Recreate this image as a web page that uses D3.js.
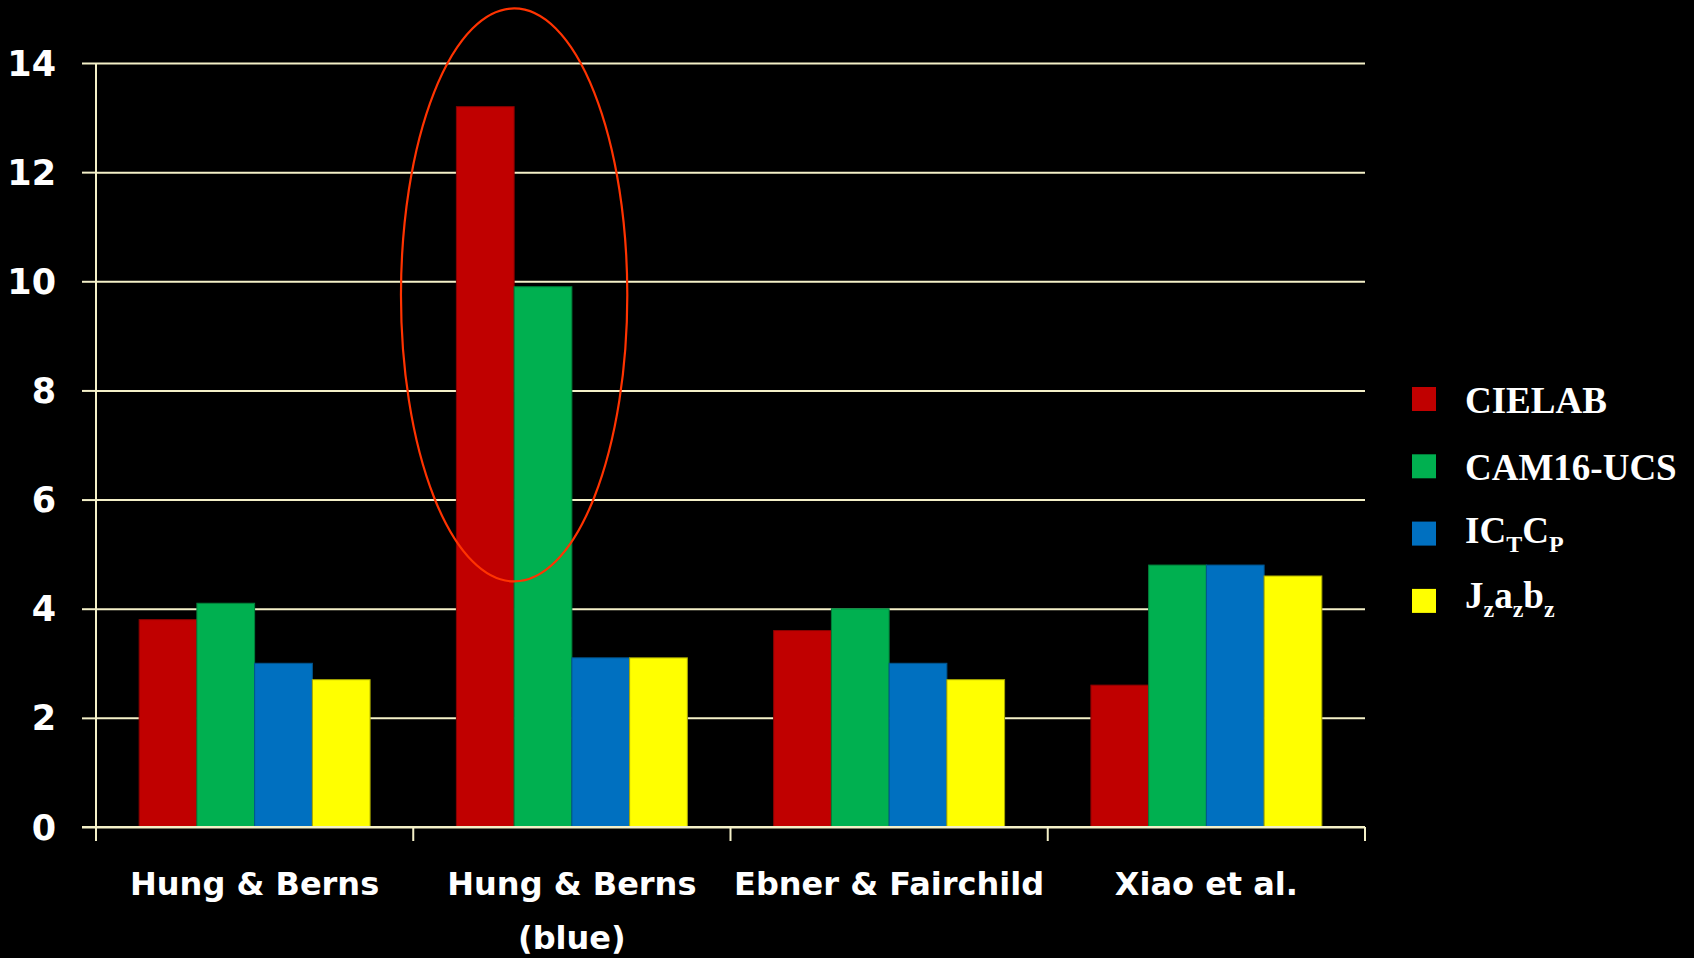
<!DOCTYPE html>
<html>
<head>
<meta charset="utf-8">
<script src="https://cdn.jsdelivr.net/npm/d3@7"></script>
<style>
  html, body { margin: 0; padding: 0; background: #000; }
  svg { display: block; }
</style>
</head>
<body>
<svg id="chart" width="1694" height="958"></svg>
<script>
// Data sets (x-axis groups); the second one has a two-line label
const categories = ["Hung & Berns", "Hung & Berns (blue)", "Ebner & Fairchild", "Xiao et al."];
const categoryLines = [["Hung & Berns"], ["Hung & Berns", "(blue)"], ["Ebner & Fairchild"], ["Xiao et al."]];

// Colour spaces (series)
const seriesNames = ["CIELAB", "CAM16-UCS", "ICTCP", "Jzazbz"];
const seriesColors = ["#C00000", "#00B050", "#0070C0", "#FFFF00"];
const seriesStrokes = ["#8a0000", "#00803a", "#005590", "#a8a800"];

// Values per colour space, one entry per data set
const cielab   = [3.8, 13.2, 3.6, 2.6];
const cam16ucs = [4.1, 9.9, 4.0, 4.8];
const ictcp    = [3.0, 3.1, 3.0, 4.8];
const jzazbz   = [2.7, 3.1, 2.7, 4.6];

const yTicks = [0, 2, 4, 6, 8, 10, 12, 14];

// Highlight ring around the first two bars of the second data set (value range in y units)
const highlight = { category: "Hung & Berns (blue)", yLow: 4.5, yHigh: 15.0 };

const seriesValues = [cielab, cam16ucs, ictcp, jzazbz];

const svg = d3.select("#chart");
const plot = { left: 96, right: 1365, top: 63, bottom: 827 };

const x0 = d3.scaleBand().domain(categories).range([plot.left, plot.right]).paddingInner(0).paddingOuter(0);
const groupWidth = x0.bandwidth() * 0.728;
const x1 = d3.scaleBand().domain(seriesNames).range([0, groupWidth]).padding(0);
const y = d3.scaleLinear().domain([0, 14]).range([plot.bottom, plot.top]);

const gridColor = "#f4f0c8";

// Horizontal gridlines with tick stubs to the left of the axis
const yAxis = d3.axisLeft(y).tickValues(yTicks).tickSize(-(plot.right - plot.left)).tickFormat("");
const gy = svg.append("g").attr("transform", `translate(${plot.left},0)`).call(yAxis);
gy.select(".domain").remove();
gy.selectAll(".tick line").attr("stroke", gridColor).attr("stroke-width", 2);
gy.selectAll(".tick").append("line")
  .attr("x1", -14).attr("x2", 0)
  .attr("stroke", gridColor).attr("stroke-width", 2);

// Y tick labels
svg.append("g").selectAll("text").data(yTicks).join("text")
  .attr("x", 56)
  .attr("y", d => y(d))
  .attr("dy", "0.36em")
  .attr("text-anchor", "end")
  .attr("fill", "#fff")
  .attr("font-family", "'Comic Sans MS', 'DejaVu Sans', sans-serif")
  .attr("font-weight", "bold")
  .attr("font-size", 35)
  .text(d => d);

// Bars
const rows = categories.map((c, i) => ({ category: c, values: seriesNames.map((s, j) => ({ series: s, j, value: seriesValues[j][i] })) }));
const groups = svg.append("g").selectAll("g").data(rows).join("g")
  .attr("transform", d => `translate(${x0(d.category) + (x0.bandwidth() - groupWidth) / 2},0)`);
groups.selectAll("rect").data(d => d.values).join("rect")
  .attr("x", d => x1(d.series))
  .attr("y", d => y(d.value))
  .attr("width", x1.bandwidth())
  .attr("height", d => y(0) - y(d.value))
  .attr("fill", d => seriesColors[d.j])
  .attr("stroke", d => seriesStrokes[d.j])
  .attr("stroke-width", 1);

// Left axis line
svg.append("line")
  .attr("x1", plot.left).attr("x2", plot.left)
  .attr("y1", plot.top).attr("y2", plot.bottom + 14)
  .attr("stroke", gridColor).attr("stroke-width", 2);

// X axis: baseline with ticks at group boundaries
svg.append("line")
  .attr("x1", plot.left - 14).attr("x2", plot.right)
  .attr("y1", plot.bottom).attr("y2", plot.bottom)
  .attr("stroke", gridColor).attr("stroke-width", 2);
const boundaries = categories.map(c => x0(c)).concat([x0(categories[categories.length - 1]) + x0.bandwidth()]);
svg.append("g").selectAll("line").data(boundaries).join("line")
  .attr("x1", d => d).attr("x2", d => d)
  .attr("y1", plot.bottom).attr("y2", plot.bottom + 14)
  .attr("stroke", gridColor).attr("stroke-width", 2);

// Category labels
const labels = svg.append("g").selectAll("text").data(categories).join("text")
  .attr("x", d => x0(d) + x0.bandwidth() / 2)
  .attr("y", 895)
  .attr("text-anchor", "middle")
  .attr("fill", "#fff")
  .attr("font-family", "'Comic Sans MS', 'DejaVu Sans', sans-serif")
  .attr("font-weight", "bold")
  .attr("font-size", 32);
labels.each(function (d, i) {
  const t = d3.select(this);
  categoryLines[i].forEach((line, k) => {
    t.append("tspan")
      .attr("x", x0(d) + x0.bandwidth() / 2)
      .attr("dy", k === 0 ? 0 : 54)
      .text(line);
  });
});

// Highlight ellipse around CIELAB / CAM16-UCS bars of the second data set
const hx = x0(highlight.category) + (x0.bandwidth() - groupWidth) / 2 + x1("CAM16-UCS");
svg.append("ellipse")
  .attr("cx", hx)
  .attr("cy", (y(highlight.yLow) + y(highlight.yHigh)) / 2)
  .attr("rx", x1.bandwidth() * 1.96)
  .attr("ry", (y(highlight.yLow) - y(highlight.yHigh)) / 2)
  .attr("fill", "none")
  .attr("stroke", "#ff3300")
  .attr("stroke-width", 2.2);

// Legend: label pieces, flagged when set as subscript
const legendLabels = [
  [["CIELAB", false]],
  [["CAM16-UCS", false]],
  [["IC", false], ["T", true], ["C", false], ["P", true]],
  [["J", false], ["z", true], ["a", false], ["z", true], ["b", false], ["z", true]]
];
const legendBaselines = [26, 26, 21, 19];
const legend = svg.append("g").attr("transform", "translate(1412,387)");
const items = legend.selectAll("g").data(seriesNames).join("g")
  .attr("transform", (d, i) => `translate(0,${i * 67.3})`);
items.append("rect")
  .attr("width", 24).attr("height", 24)
  .attr("fill", (d, i) => seriesColors[i]);
items.append("text")
  .attr("x", 53)
  .attr("y", (d, i) => legendBaselines[i])
  .attr("fill", "#fff")
  .attr("font-family", "'Liberation Serif', 'Times New Roman', serif")
  .attr("font-weight", "bold")
  .attr("font-size", 37)
  .each(function (d, i) {
    const t = d3.select(this);
    let sub = false;
    legendLabels[i].forEach(([txt, isSub]) => {
      let dy = 0;
      if (isSub && !sub) dy = 9;
      if (!isSub && sub) dy = -9;
      sub = isSub;
      t.append("tspan")
        .attr("dy", dy)
        .attr("font-size", isSub ? 24 : 37)
        .text(txt);
    });
  });
</script>
</body>
</html>
